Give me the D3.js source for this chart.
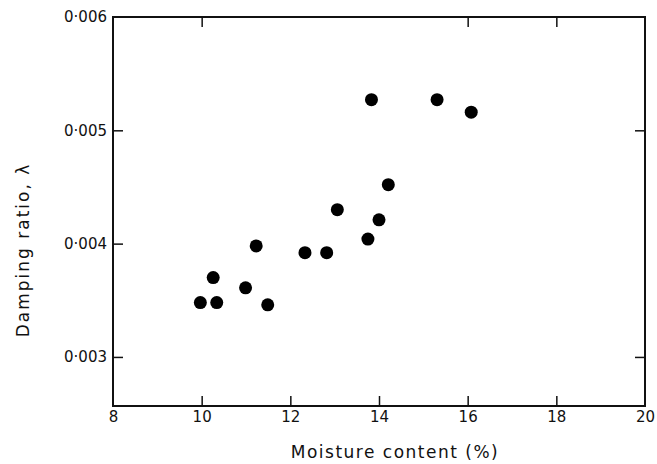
<!DOCTYPE html>
<html>
<head>
<meta charset="utf-8">
<script src="https://cdn.jsdelivr.net/npm/d3@7"></script>
<style>
  body { margin: 0; background: #fff; }
  text { font-family: "DejaVu Sans", sans-serif; fill: #111; }
</style>
</head>
<body>
<script>
// data
var moisture = [9.97, 10.26, 10.34, 10.99, 11.23, 11.49, 12.33, 12.82, 13.06, 13.75, 13.83, 14.0, 14.21, 15.31, 16.08];
var damping  = [0.00348, 0.00370, 0.00348, 0.00361, 0.00398, 0.00346, 0.00392, 0.00392, 0.00430, 0.00404, 0.00527, 0.00421, 0.00452, 0.00527, 0.00516];
var xTicks = [8, 10, 12, 14, 16, 18, 20];
var yTicks = [0.003, 0.004, 0.005, 0.006];

var width = 657, height = 464;
var mLeft = 113, mRight = 645, mTop = 17, mBottom = 406;

var x = d3.scaleLinear().domain([8, 20]).range([mLeft, mRight]);
var y = d3.scaleLinear().domain([0.002567, 0.006]).range([mBottom, mTop]);

var svg = d3.select('body')
  .append('svg')
  .attr('width', width)
  .attr('height', height);

// frame
svg.append('rect')
  .attr('x', mLeft).attr('y', mTop)
  .attr('width', mRight - mLeft).attr('height', mBottom - mTop)
  .attr('fill', 'none')
  .attr('stroke', '#111')
  .attr('stroke-width', 2);

var fmt = function(d){ return d3.format('.3f')(d).replace('.', '·'); };

// bottom axis, ticks pointing in
var xAxis = svg.append('g')
  .attr('transform', 'translate(0,' + mBottom + ')')
  .call(d3.axisBottom(x).tickValues(xTicks).tickSizeInner(-10).tickSizeOuter(0).tickPadding(5));
xAxis.select('.domain').remove();
xAxis.selectAll('.tick line').attr('stroke', '#111').attr('stroke-width', 1.5);
xAxis.selectAll('.tick line').filter(function(d){ return d === 8 || d === 20; }).remove();
xAxis.selectAll('text').style('font-size', '15px').attr('fill', '#111');

// top ticks
var xTop = svg.append('g')
  .attr('transform', 'translate(0,' + mTop + ')')
  .call(d3.axisTop(x).tickValues([10, 16, 18]).tickSizeInner(-10).tickSizeOuter(0).tickFormat(''));
xTop.select('.domain').remove();
xTop.selectAll('.tick line').attr('stroke', '#111').attr('stroke-width', 1.5);

// left axis
var yAxis = svg.append('g')
  .attr('transform', 'translate(' + mLeft + ',0)')
  .call(d3.axisLeft(y).tickValues(yTicks).tickSizeInner(-10).tickSizeOuter(0).tickPadding(6).tickFormat(fmt));
yAxis.select('.domain').remove();
yAxis.selectAll('.tick line').attr('stroke', '#111').attr('stroke-width', 1.5);
yAxis.selectAll('.tick line').filter(function(d){ return d === 0.006; }).remove();
yAxis.selectAll('text').style('font-size', '15px').attr('fill', '#111');

// right ticks
var yRight = svg.append('g')
  .attr('transform', 'translate(' + mRight + ',0)')
  .call(d3.axisRight(y).tickValues([0.003, 0.005]).tickSizeInner(-10).tickSizeOuter(0).tickFormat(''));
yRight.select('.domain').remove();
yRight.selectAll('.tick line').attr('stroke', '#111').attr('stroke-width', 1.5);

// points
svg.append('g')
  .selectAll('circle')
  .data(moisture)
  .enter()
    .append('circle')
      .attr('cx', function(d){ return x(d); })
      .attr('cy', function(d, i){ return y(damping[i]); })
      .attr('r', 6.5)
      .attr('fill', '#000');

// axis titles
svg.append('text')
  .attr('x', 395).attr('y', 458)
  .attr('text-anchor', 'middle')
  .style('font-size', '17px')
  .style('letter-spacing', '1.5px')
  .text('Moisture content  (%)');

svg.append('text')
  .attr('transform', 'translate(29,250) rotate(-90)')
  .attr('text-anchor', 'middle')
  .style('font-size', '17px')
  .style('letter-spacing', '2px')
  .text('Damping ratio,  λ');
</script>
</body>
</html>
